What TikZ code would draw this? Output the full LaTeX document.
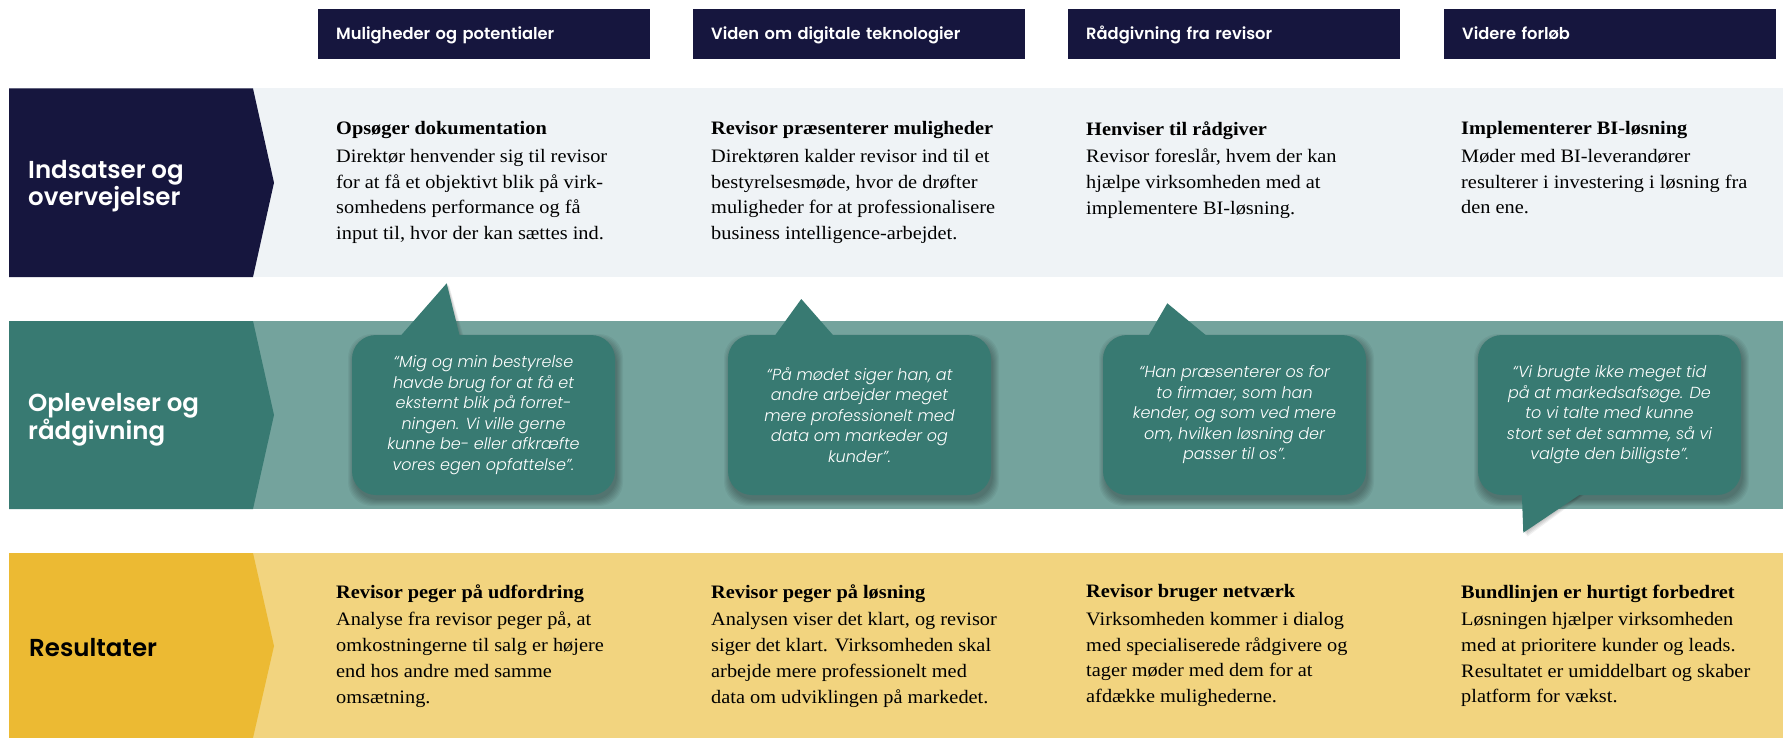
\documentclass[tikz,border=0pt]{standalone}
\usepackage{fontspec}
\setmainfont{Liberation Serif}[FakeStretch=1.07]
\newfontfamily\hfont{Poppins}[UprightFont={* SemiBold}]
\newfontfamily\qfont{Poppins}[UprightFont={* Light}, ItalicFont={* Light Italic}]
\definecolor{navy}{RGB}{22,22,62}
\definecolor{paleblue}{RGB}{239,243,246}
\definecolor{tealdark}{RGB}{56,122,114}
\definecolor{teallight}{RGB}{116,163,157}
\definecolor{golddark}{RGB}{236,186,51}
\definecolor{goldlight}{RGB}{242,212,127}
\newcommand\bubbleshadow[4]{%
  \foreach \s in {0,...,6}{%
    \fill[black, opacity=0.045, rounded corners=24pt]
      ({#1-\s+2},{#2-\s+5}) rectangle ({#3+\s+2},{#4+\s+5});}}
\tikzset{
  hdr/.style={fill=navy, text=white, font=\hfont\fontsize{16.3}{19}\selectfont,
    anchor=north west, inner xsep=18pt, inner ysep=0pt, text width=296pt,
    minimum height=50pt, align=left, text height=11.5pt, text depth=0pt},
  lbl/.style={font=\hfont\fontsize{24.5}{27}\selectfont, text=white, align=left,
    inner sep=0pt, anchor=west},
  coltext/.style={font=\fontsize{19}{25.8}\selectfont, align=left, inner sep=0pt,
    anchor=north west},
  bubble/.style={fill=tealdark, rounded corners=24pt, minimum width=263pt,
    minimum height=160pt, text=white, align=center, inner sep=0pt,
    font=\qfont\itshape\fontsize{16}{20.5}\selectfont},
  pointer/.style={fill=tealdark}
}
\begin{document}
\begin{tikzpicture}[x=1pt,y=-1pt]
\useasboundingbox (0,0) rectangle (1783,738);
\fill[white] (0,0) rectangle (1783,738);
% bands
\fill[paleblue] (9,88.5) rectangle (1783,277);
\fill[navy] (9,88.5) -- (253,88.5) -- (274,182.7) -- (253,277) -- (9,277) -- cycle;
\fill[teallight] (9,321) rectangle (1783,509);
\fill[tealdark] (9,321) -- (253,321) -- (274,415) -- (253,509) -- (9,509) -- cycle;
\fill[goldlight] (9,553) rectangle (1783,738);
\fill[golddark] (9,553) -- (253,553) -- (274,646) -- (253,738) -- (9,738) -- cycle;

% headers
\node[hdr] (h1) at (318,8.5) {Muligheder og potentialer};
\node[hdr] (h2) at (693,8.5) {Viden om digitale teknologier};
\node[hdr] (h3) at (1068,8.5) {Rådgivning fra revisor};
\node[hdr] (h4) at (1444,8.5) {Videre forløb};

% row labels
\node[lbl] (l1) at (28,186) {Indsatser og\\overvejelser};
\node[lbl] (l2) at (28,420) {Oplevelser og\\rådgivning};
\node[lbl, text=black, anchor=base west] (l3) at (29,656.7) {Resultater};

% top texts
\node[coltext] (t1) at (336,121.5) {\textbf{Opsøger dokumentation}\\[1.7pt]Direktør henvender sig til revisor\\for at få et objektivt blik på virk-\\somhedens performance og få\\input til, hvor der kan sættes ind.};
\node[coltext] (t2) at (711,121.5) {\textbf{Revisor præsenterer muligheder}\\[1.7pt]Direktøren kalder revisor ind til et\\bestyrelsesmøde, hvor de drøfter\\muligheder for at professionalisere\\business intelligence-arbejdet.};
\node[coltext] (t3) at (1086,121.5) {\textbf{Henviser til rådgiver}\\[1.7pt]Revisor foreslår, hvem der kan\\hjælpe virksomheden med at\\implementere BI-løsning.};
\node[coltext] (t4) at (1461,121.5) {\textbf{Implementerer BI-løsning}\\[1.7pt]Møder med BI-leverandører\\resulterer i investering i løsning fra\\den ene.};

% bottom texts
\node[coltext] (r1) at (336,584.5) {\textbf{Revisor peger på udfordring}\\[1.7pt]Analyse fra revisor peger på, at\\omkostningerne til salg er højere\\end hos andre med samme\\omsætning.};
\node[coltext] (r2) at (711,584.5) {\textbf{Revisor peger på løsning}\\[1.7pt]Analysen viser det klart, og revisor\\siger det klart. Virksomheden skal\\arbejde mere professionelt med\\data om udviklingen på markedet.};
\node[coltext] (r3) at (1086,584.5) {\textbf{Revisor bruger netværk}\\[1.7pt]Virksomheden kommer i dialog\\med specialiserede rådgivere og\\tager møder med dem for at\\afdække mulighederne.};
\node[coltext] (r4) at (1461,584.5) {\textbf{Bundlinjen er hurtigt forbedret}\\[1.7pt]Løsningen hjælper virksomheden\\med at prioritere kunder og leads.\\Resultatet er umiddelbart og skaber\\platform for vækst.};

% shadows
\bubbleshadow{352}{335}{615}{495}
\bubbleshadow{728}{335}{991}{495}
\bubbleshadow{1103}{335}{1366}{495}
\bubbleshadow{1478}{335}{1741}{495}
\foreach \s in {1,...,4}{%
  \fill[black, opacity=0.05] ({397+\s},340) -- ({446.7+\s*0.6},{283.3+\s*0.6}) -- ({460.7+\s},340) -- cycle;
  \fill[black, opacity=0.06] ({1521.7+\s},490) -- ({1523.3+\s},{532.7+\s}) -- ({1586.7+\s},490) -- cycle;}

% pointers
\fill[pointer] (397,340) -- (446.7,283.3) -- (460.7,340) -- cycle;
\fill[pointer] (771.7,340) -- (801.3,299) -- (837.3,340) -- cycle;
\fill[pointer] (1146,340) -- (1167.3,303.3) -- (1211.7,340) -- cycle;
\fill[pointer] (1521.7,490) -- (1523.3,532.7) -- (1586.7,490) -- cycle;

% bubbles
\node[bubble] (b1) at (483.5,415) {“Mig og min bestyrelse\\havde brug for at få et\\eksternt blik på forret-\\ningen. Vi ville gerne\\kunne be- eller afkræfte\\vores egen opfattelse”.};
\node[bubble] (b2) at (859.5,415) {“På mødet siger han, at\\andre arbejder meget\\mere professionelt med\\data om markeder og\\kunder”.};
\node[bubble] (b3) at (1234.5,415) {“Han præsenterer os for\\to firmaer, som han\\kender, og som ved mere\\om, hvilken løsning der\\passer til os”.};
\node[bubble] (b4) at (1609.5,415) {“Vi brugte ikke meget tid\\på at markedsafsøge. De\\to vi talte med kunne\\stort set det samme, så vi\\valgte den billigste”.};
\end{tikzpicture}
\end{document}
